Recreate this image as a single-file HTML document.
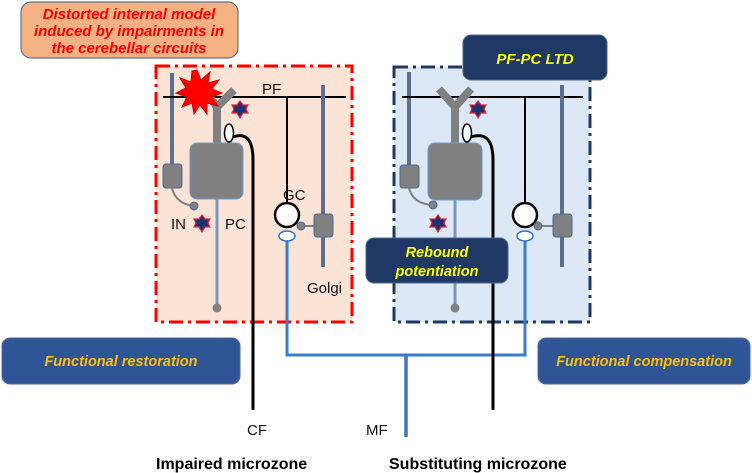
<!DOCTYPE html>
<html><head><style>body{margin:0;background:#fff}svg{display:block}</style></head><body>
<svg width="752" height="473" viewBox="0 0 752 473" xmlns="http://www.w3.org/2000/svg" font-family="Liberation Sans, sans-serif">
<rect x="156" y="66" width="196" height="256" fill="#fbe3d6" stroke="#ff0000" stroke-width="3" stroke-dasharray="14,5,3,5"/>
<rect x="394" y="67" width="196" height="255" fill="#dce8f5" stroke="#1f3864" stroke-width="3" stroke-dasharray="14,5,3,5"/>

<rect x="21" y="2" width="217" height="56" rx="10" fill="#f4b183" stroke="#5b7394" stroke-width="1.2"/>
<g fill="#ff0000" font-weight="bold" font-style="italic" font-size="15" text-anchor="middle">
<text x="129" y="19">Distorted  internal model</text>
<text x="129" y="36">induced by impairments in</text>
<text x="129" y="53">the cerebellar circuits</text>
</g>

<g stroke="#3a7dc9" stroke-width="3" fill="none">
<path d="M287 240 V355 H525 V240"/>
<path d="M406 355 V437" stroke="#4472c4" stroke-width="3.5"/>
</g>

<g>
<line x1="172" y1="73" x2="172" y2="165" stroke="#5a6f8f" stroke-width="4"/>
<rect x="163" y="164" width="19" height="24" rx="3" fill="#808080" stroke="#4a6a99"/>
<path d="M172 188 Q176 204 194 206" stroke="#808080" stroke-width="2" fill="none"/>
<circle cx="194" cy="206" r="4" fill="#808080" stroke="#4a6a99"/>
<line x1="163" y1="97" x2="346" y2="97" stroke="#000" stroke-width="2"/>
<path d="M203 88 L217 107 L234 90" stroke="#808080" stroke-width="8" fill="none"/>
<rect x="213" y="105" width="8" height="42" fill="#808080"/>
<rect x="190" y="143" width="53" height="56" rx="7" fill="#808080" stroke="#6c9bd2"/>
<line x1="217" y1="199" x2="217" y2="308" stroke="#7b97b8" stroke-width="3"/>
<circle cx="217" cy="308" r="4.5" fill="#808080"/>
<path d="M233 137 Q253 130 253 160 V410" stroke="#000" stroke-width="3" fill="none"/>
<ellipse cx="229" cy="133" rx="4.5" ry="9" fill="#fff" stroke="#000" stroke-width="1.5"/>
<line x1="287" y1="97" x2="287" y2="203" stroke="#000" stroke-width="2"/>
<circle cx="287" cy="215" r="12" fill="#fff" stroke="#000" stroke-width="2.5"/>
<ellipse cx="287" cy="236" rx="8" ry="5" fill="#fff" stroke="#2e75d0" stroke-width="1.5"/>
<line x1="323" y1="85" x2="323" y2="267" stroke="#5a6f8f" stroke-width="4"/>
<line x1="301" y1="226" x2="316" y2="226" stroke="#808080" stroke-width="2"/>
<circle cx="301" cy="226" r="4" fill="#808080" stroke="#4a6a99"/>
<rect x="314" y="214" width="19" height="23" rx="3" fill="#808080" stroke="#4a6a99"/>
<polygon points="197,70 201,80 210,72 208,83 219,80 212,89 222,93 212,97 218,106 207,103 207,114 200,105 194,114 192,103 182,107 187,97 176,93 186,88 180,78 191,82 192,71" fill="#ff0000" stroke="#c00" stroke-width="1"/>
<g fill="#1f3070" stroke="#e8263a" stroke-width="1.2">
<polygon points="240,101 243,105 248,105 246,109 248,113 243,113 240,118 237,113 232,113 234,109 232,105 237,105"/>
<polygon points="202,215 205,219 210,219 208,223 210,227 205,227 202,232 199,227 194,227 196,223 194,219 199,219"/>
</g>
<g font-size="15" fill="#111">
<text x="262" y="94">PF</text>
<text x="283" y="200">GC</text>
<text x="171" y="229">IN</text>
<text x="225" y="229">PC</text>
<text x="307" y="293">Golgi</text>
</g>
</g>

<g>
<line x1="409" y1="72" x2="409" y2="166" stroke="#5a6f8f" stroke-width="4"/>
<rect x="400" y="165" width="19" height="23" rx="3" fill="#808080" stroke="#4a6a99"/>
<path d="M409 188 Q413 204 433 205" stroke="#808080" stroke-width="2" fill="none"/>
<circle cx="433" cy="205" r="4" fill="#808080" stroke="#4a6a99"/>
<line x1="402" y1="97" x2="583" y2="97" stroke="#000" stroke-width="2"/>
<path d="M439 89 L455 107 L471 89" stroke="#808080" stroke-width="8" fill="none"/>
<rect x="451" y="105" width="8" height="42" fill="#808080"/>
<rect x="428" y="143" width="54" height="57" rx="7" fill="#808080" stroke="#6c9bd2"/>
<line x1="455" y1="200" x2="455" y2="308" stroke="#7b97b8" stroke-width="3"/>
<circle cx="455" cy="308" r="4.5" fill="#808080"/>
<path d="M471 137 Q493 130 493 160 V410" stroke="#000" stroke-width="3" fill="none"/>
<ellipse cx="467" cy="133" rx="4.5" ry="9" fill="#fff" stroke="#000" stroke-width="1.5"/>
<line x1="525" y1="97" x2="525" y2="203" stroke="#000" stroke-width="2"/>
<circle cx="525" cy="215" r="12" fill="#fff" stroke="#000" stroke-width="2.5"/>
<ellipse cx="525" cy="236" rx="8" ry="5" fill="#fff" stroke="#2e75d0" stroke-width="1.5"/>
<line x1="562" y1="85" x2="562" y2="267" stroke="#5a6f8f" stroke-width="4"/>
<line x1="538" y1="226" x2="554" y2="226" stroke="#808080" stroke-width="2"/>
<circle cx="538" cy="226" r="4" fill="#808080" stroke="#4a6a99"/>
<rect x="553" y="214" width="19" height="23" rx="3" fill="#808080" stroke="#4a6a99"/>
<g fill="#1f3070" stroke="#e8263a" stroke-width="1.2">
<polygon points="478,101 481,105 486,105 484,109 486,113 481,113 478,118 475,113 470,113 472,109 470,105 475,105"/>
<polygon points="438,215 441,219 446,219 444,223 446,227 441,227 438,232 435,227 430,227 432,223 430,219 435,219"/>
</g>
</g>

<rect x="463" y="35" width="144" height="45" rx="8" fill="#1f3864" stroke="#4a6a99"/>
<text x="535" y="64" text-anchor="middle" fill="#ffff00" font-weight="bold" font-style="italic" font-size="15">PF-PC LTD</text>
<rect x="366" y="238" width="142" height="45" rx="8" fill="#1f3864" stroke="#4a6a99"/>
<g fill="#ffff00" font-weight="bold" font-style="italic" font-size="14.5" text-anchor="middle">
<text x="437" y="257">Rebound</text>
<text x="437" y="276">potentiation</text>
</g>
<rect x="2" y="338" width="238" height="46" rx="8" fill="#2f5597" stroke="#4a6a99"/>
<text x="121" y="366" text-anchor="middle" fill="#ffc000" font-weight="bold" font-style="italic" font-size="14.5">Functional restoration</text>
<rect x="538" y="338" width="212" height="46" rx="8" fill="#2f5597" stroke="#4a6a99"/>
<text x="644" y="366" text-anchor="middle" fill="#ffc000" font-weight="bold" font-style="italic" font-size="14.5">Functional compensation</text>

<g font-size="15" fill="#111">
<text x="247" y="435">CF</text>
<text x="366" y="435">MF</text>
</g>
<g font-size="16" font-weight="bold" fill="#000">
<text x="156" y="469">Impaired microzone</text>
<text x="389" y="469">Substituting microzone</text>
</g>
</svg>
</body></html>
